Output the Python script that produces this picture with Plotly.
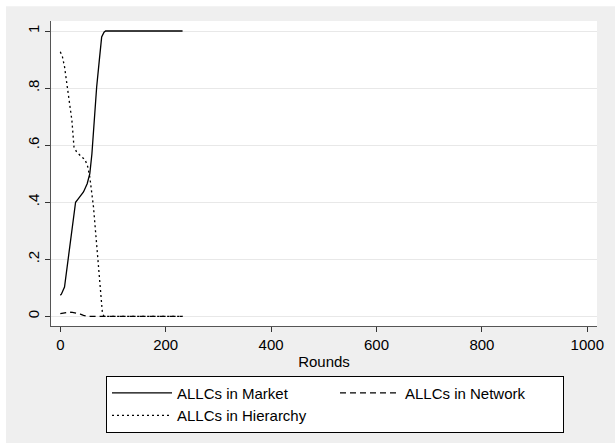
import plotly.graph_objects as go

# Data
market_rounds = [0, 2, 8, 15, 22, 29, 34, 44, 51, 56, 60, 63, 69, 74, 78.5, 83, 86, 232]
market_vals = [0.074, 0.078, 0.103, 0.196, 0.30, 0.40, 0.412, 0.436, 0.465, 0.50, 0.57, 0.652, 0.804, 0.897, 0.979, 0.996, 1.0, 1.0]

network_rounds = [0, 7, 15, 23, 31, 38, 44, 53, 232]
network_vals = [0.0094, 0.013, 0.015, 0.014, 0.012, 0.008, 0.0035, 0.0, 0.0]

hier_rounds = [0, 4, 8, 13, 18, 22, 26, 31, 40, 47, 52, 56, 63, 69, 75, 80, 83, 232]
hier_vals = [0.927, 0.91, 0.875, 0.81, 0.745, 0.687, 0.593, 0.576, 0.56, 0.549, 0.525, 0.488, 0.383, 0.243, 0.103, 0.01, 0.0, 0.0]

x_ticks = [0, 200, 400, 600, 800, 1000]
y_ticks = [0, 0.2, 0.4, 0.6, 0.8, 1]
y_ticklabels = ["0", ".2", ".4", ".6", ".8", "1"]

FONT = "Liberation Sans, Arial, sans-serif"
W, H = 615, 443
L, R, T, B = 51, 597, 20.7, 325.6

fig = go.Figure()
fig.add_trace(go.Scatter(x=market_rounds, y=market_vals, mode="lines", name="ALLCs in Market",
                         line=dict(color="black", width=1.3, dash="solid")))
fig.add_trace(go.Scatter(x=network_rounds, y=network_vals, mode="lines", name="ALLCs in Network",
                         line=dict(color="black", width=1.3, dash="6px,4px")))
fig.add_trace(go.Scatter(x=hier_rounds, y=hier_vals, mode="lines", name="ALLCs in Hierarchy",
                         line=dict(color="black", width=1.3, dash="2px,3px")))

pw = R - L
ph = B - T
# gray outer background from (6,6) to bottom-right
fig.add_shape(type="rect", xref="paper", yref="paper",
              x0=(6 - L) / pw, x1=(W - L) / pw + 0.01,
              y0=(B - H) / ph - 0.01, y1=(B - 6) / ph,
              fillcolor="#efefef", line=dict(width=0), layer="below")
fig.add_shape(type="rect", xref="paper", yref="paper", x0=0, x1=1, y0=0, y1=1,
              fillcolor="white", line=dict(width=0), layer="below")

x_per = (587.3 - 60.3) / 1000.0
y_per = 316 - 30.7
fig.update_xaxes(range=[-(60.3 - L) / x_per, 1000 + (R - 587.3) / x_per],
                 tickvals=x_ticks, ticks="outside", ticklen=5, tickcolor="#333",
                 showline=True, linecolor="#555", linewidth=1, showgrid=False, zeroline=False,
                 tickfont=dict(family=FONT, size=15, color="black"),
                 title=dict(text="Rounds", font=dict(family=FONT, size=15, color="black"), standoff=4))
fig.update_yaxes(range=[-(B - 316) / y_per, 1 + (30.7 - T) / y_per],
                 tickvals=y_ticks, ticktext=y_ticklabels, tickangle=-90,
                 ticks="outside", ticklen=5, tickcolor="#333",
                 showline=True, linecolor="#555", linewidth=1,
                 showgrid=True, gridcolor="#e8e8e8", gridwidth=1, zeroline=False,
                 tickfont=dict(family=FONT, size=15, color="black"))

fig.update_layout(
    width=W, height=H,
    margin=dict(l=L, r=W - R, t=T, b=H - B, pad=0, autoexpand=False),
    paper_bgcolor="white", plot_bgcolor="rgba(0,0,0,0)",
    showlegend=True,
    legend=dict(orientation="h", x=(106 - L) / pw, y=(B - 375.3) / ph,
                xanchor="left", yanchor="top",
                bgcolor="white", bordercolor="black", borderwidth=1,
                font=dict(family=FONT, size=15, color="black"),
                entrywidth=153, entrywidthmode="pixels", itemwidth=60,
                traceorder="normal", tracegroupgap=0),
)

fig.write_html("out.html")
